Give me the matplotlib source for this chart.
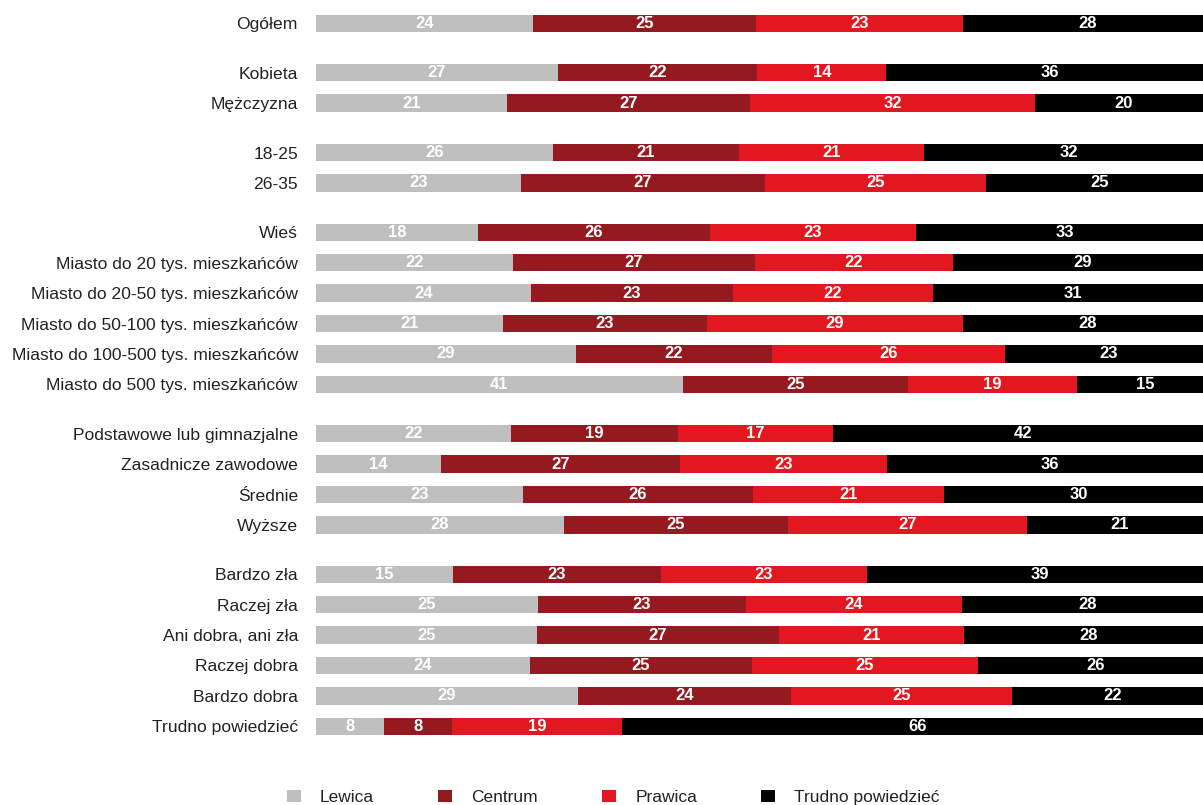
import numpy as np
import matplotlib
matplotlib.use("Agg")
import matplotlib.pyplot as plt
from matplotlib.patches import Patch

# --- DATA ---
categories = [
    "Ogółem",
    "Kobieta", "Mężczyzna",
    "18-25", "26-35",
    "Wieś", "Miasto do 20 tys. mieszkańców", "Miasto do 20-50 tys. mieszkańców",
    "Miasto do 50-100 tys. mieszkańców", "Miasto do 100-500 tys. mieszkańców",
    "Miasto do 500 tys. mieszkańców",
    "Podstawowe lub gimnazjalne", "Zasadnicze zawodowe", "Średnie", "Wyższe",
    "Bardzo zła", "Raczej zła", "Ani dobra, ani zła", "Raczej dobra", "Bardzo dobra",
    "Trudno powiedzieć",
]
group_sizes = [1, 2, 2, 6, 4, 6]

lewica = [24.19, 27.0, 21.29, 26.4, 22.85, 18.06, 21.96, 23.97, 20.85, 28.99, 40.91,
          21.74, 13.9, 23.08, 27.65, 15.27, 24.75, 24.6, 23.86, 29.21, 7.58]
centrum = [24.86, 22.2, 27.09, 20.8, 27.20, 25.86, 26.98, 22.52, 22.74, 21.85, 25.08,
           18.62, 26.7, 25.64, 24.97, 23.19, 23.19, 27.0, 24.75, 23.75, 7.6]
prawica = [23.08, 14.4, 31.77, 20.6, 24.64, 22.97, 22.07, 22.30, 28.54, 25.98, 18.84,
           17.28, 23.1, 21.29, 26.6, 22.97, 24.08, 20.6, 25.20, 24.6, 18.95]
trudno = [27.87, 36.4, 19.85, 32.2, 25.31, 33.11, 28.99, 31.21, 27.87, 23.18, 15.17,
          42.36, 36.3, 29.99, 20.78, 38.57, 27.98, 27.8, 26.19, 22.44, 65.87]

series_names = ["Lewica", "Centrum", "Prawica", "Trudno powiedzieć"]
series_colors = ["#BFBFBF", "#951A20", "#E3171F", "#000000"]

# --- LAYOUT ---
plt.rcParams['font.family'] = ['Liberation Sans', 'DejaVu Sans']

GAP = 0.625
ypos = []
y = 0.0
for gi, n in enumerate(group_sizes):
    if gi > 0:
        y += GAP
    for k in range(n):
        ypos.append(y)
        y += 1
ypos = np.array(ypos)

fig = plt.figure(figsize=(12.03, 8.05), dpi=100)
# axis runs a bit past the right edge of the picture (as in the original)
ax = fig.add_axes([316 / 1203, 0.0789, 897 / 1203, 0.911])

left = np.zeros(len(categories))
for vals, name, col in zip([lewica, centrum, prawica, trudno], series_names, series_colors):
    vals = np.array(vals)
    ax.barh(ypos, vals, left=left, height=0.57, color=col, label=name)
    for yy, l, v in zip(ypos, left, vals):
        ax.text(l + v / 2, yy, f"{v:.0f}", ha='center', va='center',
                color='white', fontsize=12, fontweight='bold')
    left = left + vals

ax.set_xlim(0, 100)
ax.set_ylim(ypos[-1] + 0.5, -0.5)
ax.set_yticks(ypos)
ax.set_yticklabels(categories, fontsize=12.6, color='#222222')
ax.tick_params(axis='y', length=0, pad=13)
ax.set_xticks([])
for s in ax.spines.values():
    s.set_visible(False)

handles = [Patch(facecolor=c, edgecolor='none') for c in series_colors]
fig.legend(handles, series_names, loc='center left', bbox_to_anchor=(287 / 1203, 0.009),
           ncol=4, frameon=False, fontsize=12.5, borderpad=0, borderaxespad=0,
           handlelength=0.81, handleheight=0.7, handletextpad=1.09, columnspacing=3.7,
           labelcolor='#222222')

fig.savefig("out.png", dpi=100)
